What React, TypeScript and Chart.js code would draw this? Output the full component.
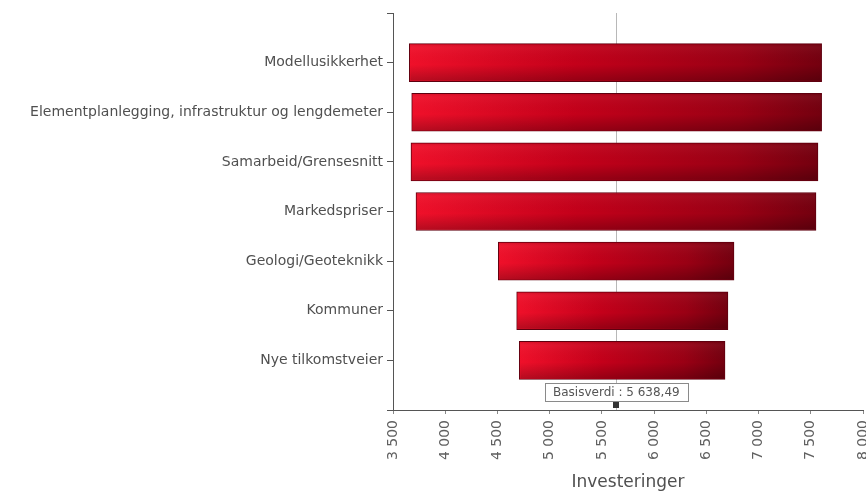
import { useEffect, useRef } from 'react';
import { Chart, registerables } from 'chart.js';

Chart.register(...registerables);

// Sensitivity (tornado) chart: low/high investment per uncertainty factor
const categories = [
  'Modellusikkerhet',
  'Elementplanlegging, infrastruktur og lengdemeter',
  'Samarbeid/Grensesnitt',
  'Markedspriser',
  'Geologi/Geoteknikk',
  'Kommuner',
  'Nye tilkomstveier',
];
const lowValues = [3656, 3679, 3672, 3720, 4508, 4684, 4709];
const highValues = [7604, 7604, 7569, 7550, 6765, 6707, 6679];

const baseValue = 5638.49;
const baseLabel = 'Basisverdi : 5 638,49';

const axisMin = 3500;
const axisMax = 8000;
const axisStep = 500;
const axisTitle = 'Investeringer';

const FONT = '"DejaVu Sans", sans-serif';

const fmtThousands = (v: number) =>
  String(Math.round(v)).replace(/\B(?=(\d{3})+(?!\d))/g, ' ');

export default function App() {
  const canvasRef = useRef<HTMLCanvasElement | null>(null);

  useEffect(() => {
    const canvas = canvasRef.current;
    if (!canvas) return;

    // padded category list so the axis runs half a step past the outer bars
    const labels = ['', ...categories, ''];
    const data: ([number, number] | null)[] = [
      null,
      ...categories.map((_, i) => [lowValues[i], highValues[i]] as [number, number]),
      null,
    ];

    const baseLinePlugin = {
      id: 'baseLine',
      beforeDatasetsDraw(chart: any) {
        const { ctx, chartArea, scales } = chart;
        const x = Math.round(scales.x.getPixelForValue(baseValue)) + 0.5;
        ctx.save();
        ctx.strokeStyle = '#b8b8b8';
        ctx.lineWidth = 1;
        ctx.beginPath();
        ctx.moveTo(x, chartArea.top);
        ctx.lineTo(x, chartArea.bottom);
        ctx.stroke();
        ctx.restore();
      },
    };

    const barShadePlugin = {
      id: 'barShade',
      afterDatasetsDraw(chart: any) {
        const { ctx } = chart;
        const meta = chart.getDatasetMeta(0);
        ctx.save();
        meta.data.forEach((el: any, i: number) => {
          if (!data[i]) return;
          const { x, y, base, height } = el.getProps(['x', 'y', 'base', 'height'], true);
          const left = Math.min(x, base);
          const w = Math.abs(x - base);
          const top = y - height / 2;
          const g = ctx.createLinearGradient(0, top, 0, top + height);
          g.addColorStop(0, 'rgba(0,0,0,0.10)');
          g.addColorStop(0.12, 'rgba(255,255,255,0.04)');
          g.addColorStop(0.55, 'rgba(0,0,0,0)');
          g.addColorStop(1, 'rgba(0,0,0,0.25)');
          ctx.fillStyle = g;
          ctx.fillRect(left + 1, top + 1, w - 2, height - 2);
        });
        ctx.restore();
      },
    };

    const baseTagPlugin = {
      id: 'baseTag',
      afterDraw(chart: any) {
        const { ctx, chartArea, scales } = chart;
        const x = scales.x.getPixelForValue(baseValue);
        const bottom = chartArea.bottom;
        ctx.save();
        ctx.font = '12px ' + FONT;
        const tw = ctx.measureText(baseLabel).width;
        const bw = Math.round(tw + 16);
        const bh = 18;
        const bx = Math.round(x - bw / 2) + 0.5;
        const by = bottom - 27 + 0.5;
        ctx.fillStyle = '#ffffff';
        ctx.fillRect(bx, by, bw, bh);
        ctx.strokeStyle = '#8a8a8a';
        ctx.lineWidth = 1;
        ctx.strokeRect(bx, by, bw, bh);
        ctx.fillStyle = '#555';
        ctx.textAlign = 'center';
        ctx.textBaseline = 'middle';
        ctx.fillText(baseLabel, x, by + bh / 2 + 0.5);
        // marker on the value axis
        ctx.fillStyle = '#333';
        ctx.fillRect(Math.round(x) - 3, bottom - 8, 6, 6);
        ctx.restore();
      },
    };

    const chart = new Chart(canvas, {
      type: 'bar',
      data: {
        labels,
        datasets: [
          {
            data: data as any,
            backgroundColor: (c: any) => {
              const raw = c.raw;
              if (!raw) return '#c00018';
              const sx = c.chart.scales.x;
              const x0 = sx.getPixelForValue(raw[0]);
              const x1 = sx.getPixelForValue(raw[1]);
              const g = c.chart.ctx.createLinearGradient(x0, 0, x1, 0);
              g.addColorStop(0, '#f0102a');
              g.addColorStop(0.4, '#c4001a');
              g.addColorStop(0.8, '#9a0014');
              g.addColorStop(1, '#74000f');
              return g;
            },
            borderColor: '#5e000f',
            borderWidth: 1,
            borderSkipped: false,
            barThickness: 38,
          },
        ],
      },
      options: {
        indexAxis: 'y',
        responsive: false,
        animation: false,
        devicePixelRatio: 1,
        layout: { padding: { top: 13, right: 0, bottom: 0, left: 0 } },
        plugins: {
          legend: { display: false },
          tooltip: { enabled: false },
        },
        scales: {
          y: {
            type: 'category',
            offset: false,
            grid: {
              offset: false,
              drawOnChartArea: false,
              drawTicks: true,
              tickLength: 6,
              color: '#555',
            },
            border: { color: '#555', width: 1 },
            ticks: {
              autoSkip: false,
              padding: 4,
              color: '#505050',
              font: { family: FONT, size: 14 },
            },
            afterFit: (s: any) => {
              s.width = 393;
              s.paddingTop = 0;
              s.paddingBottom = 0;
            },
          },
          x: {
            type: 'linear',
            min: axisMin,
            max: axisMax,
            grid: { drawOnChartArea: false, drawTicks: true, tickLength: 4, color: '#888' },
            border: { color: '#555', width: 1 },
            ticks: {
              stepSize: axisStep,
              minRotation: 90,
              maxRotation: 90,
              padding: 6,
              color: '#606060',
              font: { family: FONT, size: 14 },
              callback: (v: any) => fmtThousands(Number(v)),
            },
            title: {
              display: true,
              text: axisTitle,
              color: '#505050',
              font: { family: FONT, size: 17 },
              padding: { top: 0, bottom: 1 },
            },
            afterFit: (s: any) => {
              s.height = 84;
              s.paddingLeft = 0;
              s.paddingRight = 3;
            },
          },
        },
      },
      plugins: [baseLinePlugin, barShadePlugin, baseTagPlugin],
    } as any);

    return () => chart.destroy();
  }, []);

  return (
    <div style={{ position: 'absolute', left: 0, top: 0, width: 866, height: 494, background: '#fff' }}>
      <canvas ref={canvasRef} width={866} height={494} style={{ display: 'block' }} />
    </div>
  );
}
